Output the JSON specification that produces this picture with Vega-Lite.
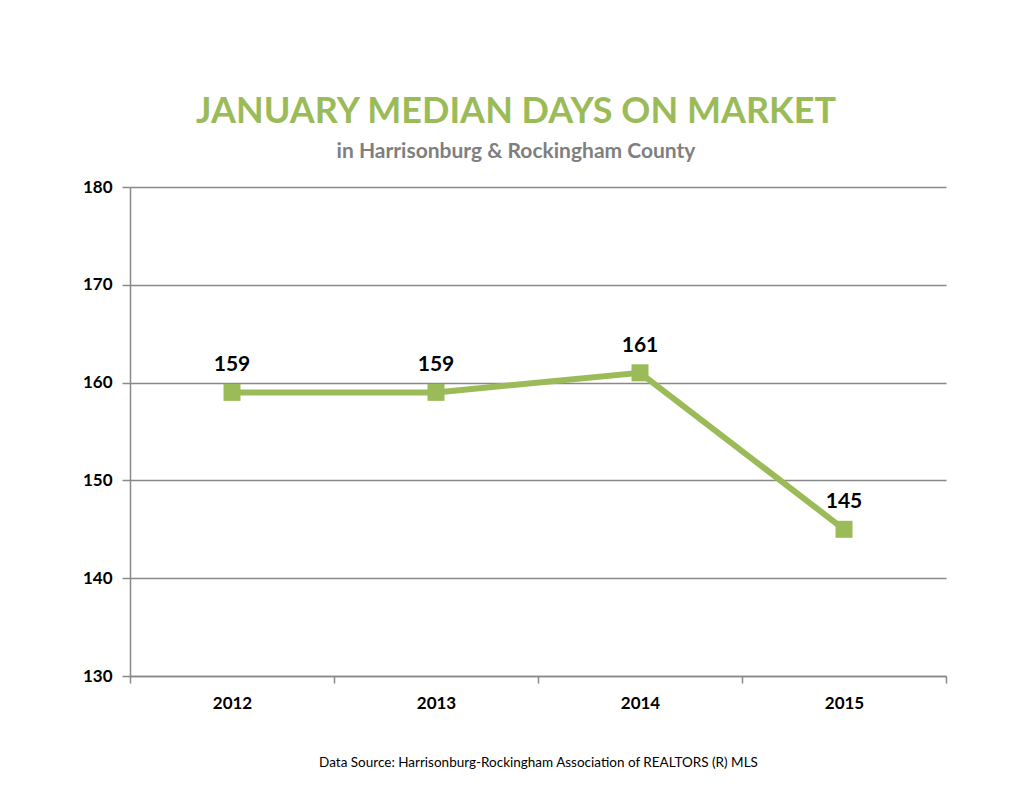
{
  "$schema": "https://vega.github.io/schema/vega-lite/v6.json",
  "width": 816,
  "height": 489,
  "autosize": {"type": "none"},
  "padding": {"left": 130, "top": 187, "right": 89, "bottom": 124},
  "background": "white",
  "config": {
    "font": "Lato",
    "view": {"stroke": null},
    "axis": {"domainColor": "#898989", "domainWidth": 1.5, "tickColor": "#898989", "tickWidth": 1.5, "gridColor": "#898989", "gridWidth": 1.5, "labelColor": "black", "labelFont": "Lato", "labelFontWeight": "bold", "labelFontSize": 17}
  },
  "title": {
    "text": "JANUARY MEDIAN DAYS ON MARKET",
    "subtitle": "in Harrisonburg  & Rockingham County",
    "font": "Lato",
    "fontSize": 36,
    "fontWeight": "bold",
    "color": "#9BBB59",
    "subtitleFont": "Lato",
    "subtitleFontSize": 21,
    "subtitleFontWeight": "bold",
    "subtitleColor": "#7F7F7F",
    "subtitlePadding": 10,
    "offset": 15,
    "dx": -22,
    "anchor": "middle",
    "frame": "group"
  },
  "data": {
    "values": [
      {"year": 2012, "days": 159},
      {"year": 2013, "days": 159},
      {"year": 2014, "days": 161},
      {"year": 2015, "days": 145}
    ]
  },
  "resolve": {"axis": {"x": "independent"}},
  "layer": [
    {
      "mark": {"type": "line", "color": "#9BBB59", "strokeWidth": 6},
      "encoding": {
        "x": {
          "field": "year", "type": "quantitative",
          "scale": {"domain": [2011.5, 2015.5], "nice": false, "zero": false},
          "axis": {
            "orient": "bottom",
            "values": [2012, 2013, 2014, 2015], "format": "d", "ticks": false, "domain": false, "grid": false,
            "labelPadding": 19,
            "title": "Data Source: Harrisonburg-Rockingham Association of REALTORS (R) MLS",
            "titleFont": "Lato", "titleFontSize": 13.5, "titleFontWeight": "normal", "titleColor": "black", "titlePadding": 44
          }
        },
        "y": {
          "field": "days", "type": "quantitative",
          "scale": {"domain": [130, 180], "nice": false, "zero": false},
          "axis": {"values": [130, 140, 150, 160, 170, 180], "grid": true, "tickSize": 8, "labelPadding": 10, "title": null}
        }
      }
    },
    {
      "mark": {"type": "point", "shape": "square", "filled": true, "opacity": 1, "size": 289, "color": "#9BBB59"},
      "encoding": {
        "x": {
          "field": "year", "type": "quantitative",
          "axis": {"orient": "bottom", "values": [2011.5, 2012.5, 2013.5, 2014.5, 2015.5], "labels": false, "ticks": true, "tickSize": 7, "grid": false, "title": null}
        },
        "y": {"field": "days", "type": "quantitative"}
      }
    },
    {
      "mark": {"type": "text", "baseline": "alphabetic", "dy": -21, "fontSize": 21, "fontWeight": "bold", "color": "black", "font": "Lato"},
      "encoding": {
        "x": {"field": "year", "type": "quantitative", "axis": null},
        "y": {"field": "days", "type": "quantitative"},
        "text": {"field": "days", "type": "quantitative"}
      }
    }
  ]
}
